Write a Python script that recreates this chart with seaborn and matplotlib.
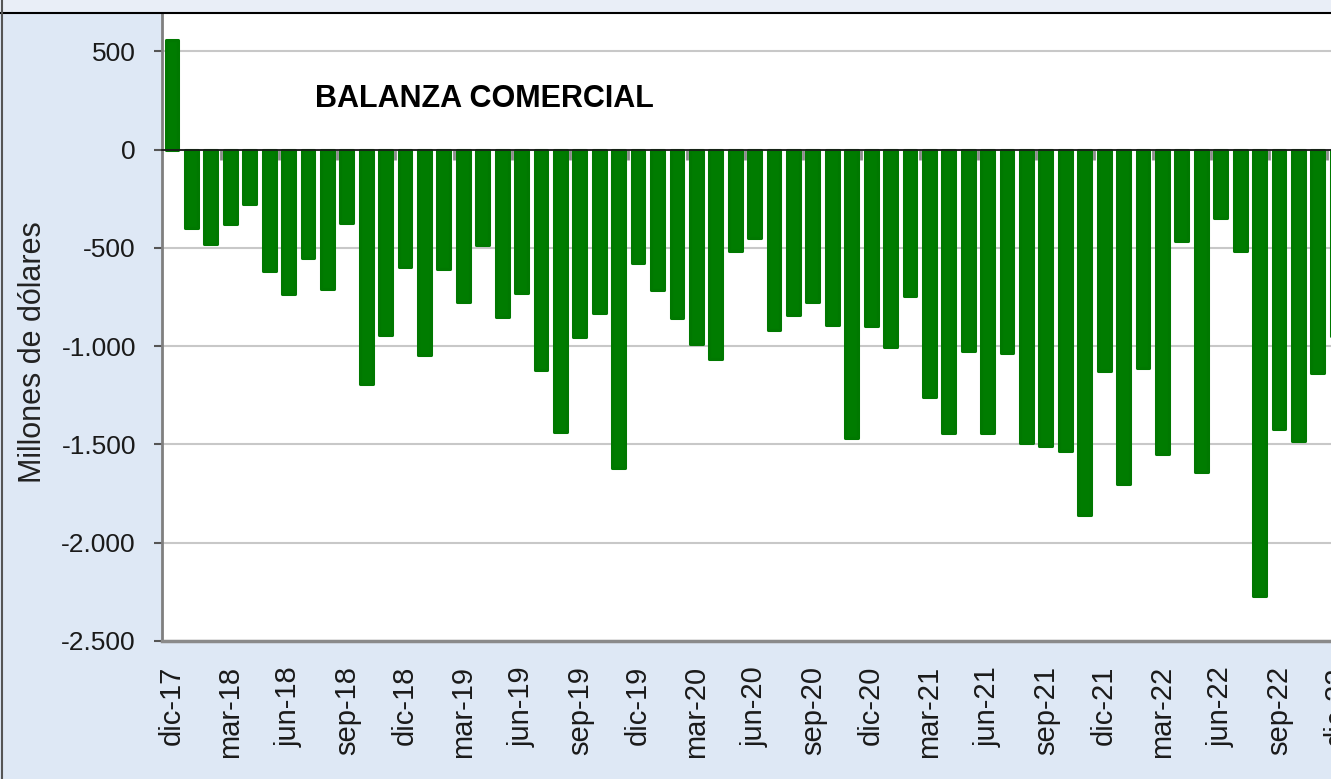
import numpy as np
import matplotlib
matplotlib.use("Agg")
import matplotlib.pyplot as plt
from matplotlib.patches import Rectangle
from matplotlib.lines import Line2D
from matplotlib.ticker import FuncFormatter, MultipleLocator
import seaborn as sns

# datos: balanza comercial mensual (millones de dólares)
meses = ['ene', 'feb', 'mar', 'abr', 'may', 'jun', 'jul', 'ago', 'sep', 'oct', 'nov', 'dic']
anios = ['18', '19', '20', '21', '22']
periodos = ['dic-17'] + [f'{m}-{a}' for a in anios for m in meses]

balanza = [560,
           -400, -480, -380, -275, -620, -735, -550, -710, -375, -1195, -945, -595,    # 2018
           -1045, -605, -775, -485, -850, -730, -1120, -1435, -955, -830, -1620, -575,  # 2019
           -715, -855, -990, -1065, -515, -450, -920, -840, -775, -890, -1465, -895,    # 2020
           -1005, -745, -1260, -1440, -1025, -1440, -1035, -1495, -1510, -1535, -1860, -1125,  # 2021
           -1700, -1110, -1550, -465, -1640, -350, -515, -2270, -1420, -1480, -1135, -950]    # 2022

y_min, y_max = -2500, 690

sns.set_style("white")
plt.rcParams['font.family'] = ['Liberation Sans', 'DejaVu Sans']

W, H = 1331, 779
fig = plt.figure(figsize=(W / 100, H / 100), dpi=100)
fig.patch.set_facecolor('#dee8f5')

# area del grafico (se corta por la derecha como en la captura)
ax = fig.add_axes([162.3 / W, 138 / H, 1184.6 / W, 627 / H])
ax.set_facecolor('white')

sns.barplot(x=periodos, y=balanza, color='#007c00', saturation=1, width=0.66,
            edgecolor='#007800', linewidth=2.2, joinstyle='round',
            errorbar=None, ax=ax)

n = len(periodos)
ax.set_xlim(-0.5, n - 0.5)
ax.set_ylim(y_min, y_max)

ax.yaxis.set_major_locator(MultipleLocator(500))
ax.yaxis.set_major_formatter(FuncFormatter(lambda v, _: f'{int(v):,}'.replace(',', '.')))
ax.grid(axis='y', color='#c8c8c8', lw=1.5)
ax.grid(axis='x', visible=False)
ax.set_axisbelow(True)

ax.set_xticks(range(0, n, 3))
ax.set_xticklabels(periodos[::3], rotation=90)
ax.tick_params(axis='x', length=0, pad=18, labelsize=21, labelcolor='#1a1a1a')
ax.tick_params(axis='y', length=6, width=1.5, color='#555555', pad=13,
               labelsize=19, labelcolor='#1a1a1a', left=True)
ax.set_xlabel('')

for s in ['top', 'right']:
    ax.spines[s].set_visible(False)
ax.spines['left'].set_color('#7f7f7f')
ax.spines['left'].set_linewidth(2)
ax.spines['bottom'].set_color('#8a8a8a')
ax.spines['bottom'].set_linewidth(2.5)

# eje de categorias cruzando en cero (linea y marcas cada trimestre)
loc0 = (0 - y_min) / (y_max - y_min)
sec = ax.secondary_xaxis(loc0)
sec.set_xticks(np.arange(2.5, n, 3))
sec.set_xticklabels([])
sec.tick_params(direction='in', length=7.5, width=2, color='#8c8c8c')
sec.spines['top'].set_color('#1a1a1a')
sec.spines['top'].set_linewidth(1.3)
sec.set_zorder(3)

ax.text(0.129, 0.8517, 'BALANZA COMERCIAL', transform=ax.transAxes,
        fontsize=22, fontweight='bold', ha='left', va='baseline', color='black')

ax.set_ylabel('Millones de dólares', fontsize=22, color='#222222')
ax.yaxis.set_label_coords((33 - 162.3) / 1184.6, (641 - 352) / 627)
ax.yaxis.label.set_va('center')

# marcos de la captura
fig.add_artist(Rectangle((0, 1 - 12 / H), 1, 12 / H, transform=fig.transFigure,
                         facecolor='#e9eef7', edgecolor='none', zorder=0))
fig.add_artist(Line2D([0, 1], [1 - 12.5 / H] * 2, transform=fig.transFigure,
                      color='black', lw=1.5))
fig.add_artist(Line2D([1.5 / W] * 2, [0, 1], transform=fig.transFigure,
                      color='#555555', lw=1.5))

fig.savefig('out.png', dpi=100)
